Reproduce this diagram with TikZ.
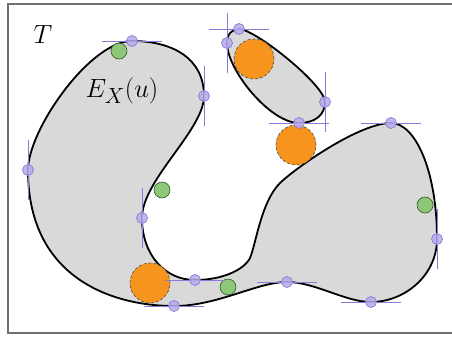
\documentclass[tikz,border=0pt]{standalone}
\usetikzlibrary{calc}
\definecolor{blobgray}{HTML}{D9D9D9}
\definecolor{orangef}{HTML}{F7941D}
\definecolor{greenf}{HTML}{8DC878}
\definecolor{greend}{HTML}{2E5A2A}
\definecolor{purl}{HTML}{8A7AD8}
\definecolor{purf}{HTML}{B6A9EA}
\definecolor{framec}{HTML}{707070}
\tikzset{
  blob/.style={fill=blobgray, draw=black, line width=1.8pt, line join=round},
  orangec/.style={circle, fill=orangef, draw=black!70, densely dashed, line width=0.6pt, minimum size=40pt, inner sep=0pt},
  greenc/.style={circle, fill=greenf, draw=greend, line width=0.6pt, minimum size=16pt, inner sep=0pt},
  tline/.style={draw=purl, line width=0.8pt},
  tpt/.style={circle, fill=purf, draw=purl, line width=0.7pt, fill opacity=0.85, minimum size=11pt, inner sep=0pt},
  frameline/.style={draw=framec, line width=1.5pt},
  lbl/.style={inner sep=0pt, font=\Huge, scale=1.06}
}
\begin{document}
\begin{tikzpicture}[x=1pt,y=-1pt]
\useasboundingbox (0,0) rectangle (452,337);
\fill[white] (0,0) rectangle (452,337);
% frame
\draw[frameline] (452,4) -- (8,4) -- (8,333) -- (452,333);
% main blob
\draw[blob] (132,41) .. controls (172,41) and (204,58) .. (204,96)
  .. controls (204,130) and (142,180) .. (142,218)
  .. controls (142,255) and (165,280) .. (195,280)
  .. controls (222,280) and (244,270) .. (250,258)
  .. controls (256,244) and (261,202) .. (280,183)
  .. controls (298,166) and (360,123) .. (391,123)
  .. controls (415,123) and (437,170) .. (437,239)
  .. controls (437,275) and (405,302) .. (371,302)
  .. controls (345,302) and (315,282) .. (287,282)
  .. controls (257,282) and (218,306) .. (174,306)
  .. controls (115,306) and (28,280) .. (28,170)
  .. controls (28,130) and (90,41) .. cycle;
% small top blob
\draw[blob] (239,29) .. controls (255,29) and (325,85) .. (325,102)
  .. controls (325,115) and (315,123) .. (299,123)
  .. controls (270,123) and (227,70) .. (227,43)
  .. controls (227,34) and (232,29) .. cycle;
% orange circles
\node[orangec] (o1) at (254,59) {};
\node[orangec] (o2) at (296,145) {};
\node[orangec] (o3) at (150,283) {};
% green circles
\node[greenc] (g1) at (119,51) {};
\node[greenc] (g2) at (162,190) {};
\node[greenc] (g3) at (228,287) {};
\node[greenc] (g4) at (425,205) {};
% tangent lines (horizontal)
\foreach \px/\py in {132/41, 195/280, 174/306, 287/282, 371/302, 391/123, 299/123, 239/29}
  \draw[tline] (\px-30,\py) -- (\px+30,\py);
% tangent lines (vertical)
\foreach \px/\py in {204/96, 28/170, 142/218, 437/239, 325/102, 227/43}
  \draw[tline] (\px,\py-30) -- (\px,\py+30);
% tangent points
\node[tpt] (t1) at (132,41) {};
\node[tpt] (t2) at (204,96) {};
\node[tpt] (t3) at (28,170) {};
\node[tpt] (t4) at (142,218) {};
\node[tpt] (t5) at (195,280) {};
\node[tpt] (t6) at (174,306) {};
\node[tpt] (t7) at (287,282) {};
\node[tpt] (t8) at (371,302) {};
\node[tpt] (t9) at (437,239) {};
\node[tpt] (t10) at (391,123) {};
\node[tpt] (t11) at (299,123) {};
\node[tpt] (t12) at (325,102) {};
\node[tpt] (t13) at (239,29) {};
\node[tpt] (t14) at (227,43) {};
% labels
\node[lbl] (T) at (43,34) {$T$};
\node[lbl] (E) at (122,91) {$E_X(u)$};
\end{tikzpicture}
\end{document}
